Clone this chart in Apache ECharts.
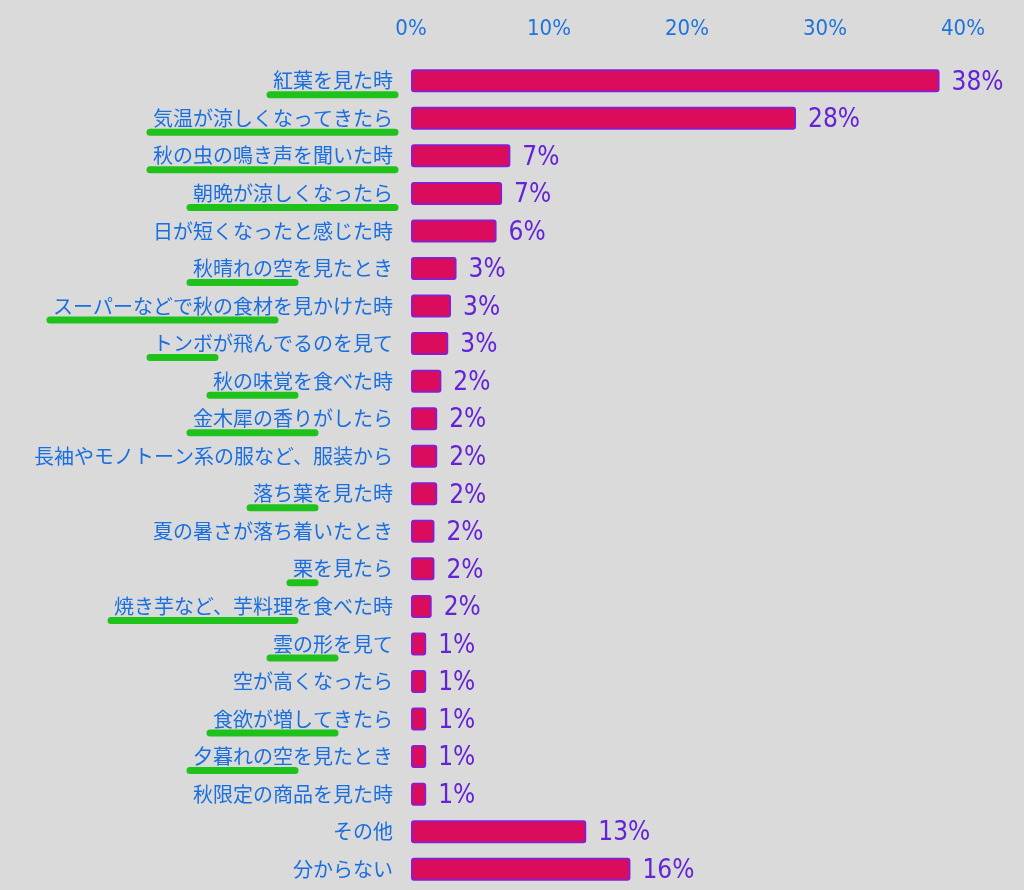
<!DOCTYPE html>
<html>
<head>
<meta charset="utf-8">
<script src="https://cdn.jsdelivr.net/npm/echarts@6/dist/echarts.min.js"></script>
<style>
  html, body { margin: 0; padding: 0; background: #dadada; }
  #chart { width: 1024px; height: 890px; }
</style>
</head>
<body>
<div id="chart"></div>
<script>
const categories = [
  '紅葉を見た時', '気温が涼しくなってきたら', '秋の虫の鳴き声を聞いた時', '朝晩が涼しくなったら',
  '日が短くなったと感じた時', '秋晴れの空を見たとき', 'スーパーなどで秋の食材を見かけた時',
  'トンボが飛んでるのを見て', '秋の味覚を食べた時', '金木犀の香りがしたら',
  '長袖やモノトーン系の服など、服装から', '落ち葉を見た時', '夏の暑さが落ち着いたとき',
  '栗を見たら', '焼き芋など、芋料理を食べた時', '雲の形を見て', '空が高くなったら',
  '食欲が増してきたら', '夕暮れの空を見たとき', '秋限定の商品を見た時', 'その他', '分からない'
]
const values = [38.3, 27.9, 7.2, 6.6, 6.2, 3.3, 2.9, 2.7, 2.2, 1.9, 1.9, 1.9, 1.7, 1.7, 1.5, 1.1, 1.1, 1.1, 1.1, 1.1, 12.7, 15.9]
const pctLabels = ['38%', '28%', '7%', '7%', '6%', '3%', '3%', '3%', '2%', '2%', '2%', '2%', '2%', '2%', '2%', '1%', '1%', '1%', '1%', '1%', '13%', '16%']
// 緑の下線: 先頭から何文字目まで引くか
const underlineChars = [6, 12, 12, 10, 0, 5, 11, 3, 4, 6, 0, 3, 0, 1, 9, 3, 0, 6, 5, 0, 0, 0]
const xTicks = [0, 10, 20, 30, 40]

const labelSize = 20
const labelFont = labelSize + 'px "Noto Sans CJK JP"'
const labelMargin = 18

const chart = echarts.init(document.getElementById('chart'))

chart.setOption({
  backgroundColor: '#dadada',
  animation: false,
  grid: { left: 411, right: 61, top: 62, bottom: 2 },
  xAxis: {
    type: 'value',
    position: 'top',
    min: xTicks[0],
    max: xTicks[xTicks.length - 1],
    interval: 10,
    axisLine: { show: false },
    axisTick: { show: false },
    splitLine: { show: false },
    axisLabel: {
      margin: 22,
      color: '#1f74dc',
      fontSize: 22,
      fontFamily: 'DejaVu Sans Condensed',
      formatter: v => v + '%'
    }
  },
  yAxis: {
    type: 'category',
    inverse: true,
    data: categories,
    axisLine: { show: false },
    axisTick: { show: false },
    axisLabel: {
      margin: labelMargin,
      color: '#1a6fe0',
      fontSize: labelSize,
      fontFamily: 'Noto Sans CJK JP'
    }
  },
  series: [{
    type: 'bar',
    data: values,
    barWidth: 23,
    itemStyle: {
      color: '#dc0c5c',
      borderColor: '#8c1ccc',
      borderWidth: 2,
      borderRadius: 2
    },
    label: {
      show: true,
      position: 'right',
      distance: 12,
      offset: [0, 2],
      color: '#6424d6',
      fontSize: 26,
      fontFamily: 'DejaVu Sans Condensed',
      formatter: p => pctLabels[p.dataIndex]
    }
  }]
})

// 手書き風の緑の下線を、ラベル位置から計算して重ねる
const ctx = document.createElement('canvas').getContext('2d')
ctx.font = labelFont
const right = chart.convertToPixel({ xAxisIndex: 0 }, 0) - labelMargin
const lines = []
categories.forEach((c, i) => {
  const n = underlineChars[i]
  if (!n) return
  const y = chart.convertToPixel({ yAxisIndex: 0 }, c) + 14
  const full = ctx.measureText(c).width
  const part = ctx.measureText(c.slice(0, n)).width
  const x1 = right - full - 3
  const x2 = right - full + part + 2
  lines.push({
    type: 'line',
    z: 100,
    shape: { x1: x1, y1: y, x2: x2, y2: y },
    style: { stroke: '#1fc21a', lineWidth: 7, lineCap: 'round' }
  })
})
chart.setOption({ graphic: lines })

window.addEventListener('resize', () => chart.resize())
</script>
</body>
</html>
